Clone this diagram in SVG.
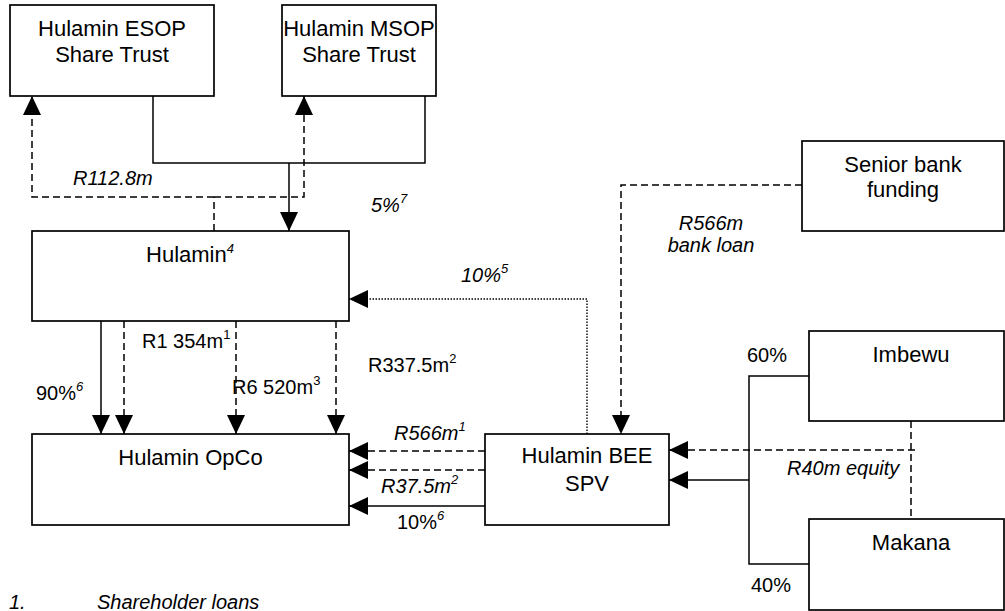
<svg xmlns="http://www.w3.org/2000/svg" width="1005" height="611" viewBox="0 0 1005 611">
<style>
.box{fill:#fff;stroke:#000;stroke-width:1.7}
.t{font-family:"Liberation Sans",Arial,sans-serif;font-size:22px;fill:#000}
.l{font-family:"Liberation Sans",Arial,sans-serif;font-size:20px;fill:#000}
.i{font-style:italic}
.sup{font-size:13px}
.solid{fill:none;stroke:#000;stroke-width:1.5}
.dash{fill:none;stroke:#000;stroke-width:1.5;stroke-dasharray:7,4}
.dot{fill:none;stroke:#000;stroke-width:1.4;stroke-dasharray:1.5,1.5}
</style>
<defs>
<marker id="ah" markerUnits="userSpaceOnUse" markerWidth="19" markerHeight="18" refX="19" refY="9" orient="auto">
<path d="M0,0 L19,9 L0,18 z" fill="#000"/>
</marker>
</defs>
<rect width="1005" height="611" fill="#fff"/>

<g id="connectors">
<path class="solid" d="M153,96 V163 H425 V96"/>
<path class="solid" d="M289,163 V231" marker-end="url(#ah)"/>
<path class="dash" d="M214,231 V197"/>
<path class="dash" d="M214,197 H32 V96" marker-end="url(#ah)"/>
<path class="dash" d="M214,197 H304 V96" marker-end="url(#ah)"/>
<path class="solid" d="M101,321 V434" marker-end="url(#ah)"/>
<path class="dash" d="M124,321 V434" marker-end="url(#ah)"/>
<path class="dash" d="M236,321 V434" marker-end="url(#ah)"/>
<path class="dash" d="M336,321 V434" marker-end="url(#ah)"/>
<path class="dot" d="M587,434 V299 H349" marker-end="url(#ah)"/>
<path class="dash" d="M802,185 H621 V434" marker-end="url(#ah)"/>
<path class="dash" d="M485,451 H349" marker-end="url(#ah)"/>
<path class="dash" d="M485,470 H349" marker-end="url(#ah)"/>
<path class="solid" d="M485,506 H349" marker-end="url(#ah)"/>
<path class="solid" d="M809,376 H749 V564 H809"/>
<path class="solid" d="M749,480 H669" marker-end="url(#ah)"/>
<path class="dash" d="M911,421 V519"/>
<path class="dash" d="M915,450 H669" marker-end="url(#ah)"/>
</g>

<g id="esop">
<rect class="box" x="10" y="5" width="204" height="91"/>
<text class="t" x="112" y="36" text-anchor="middle">Hulamin ESOP</text>
<text class="t" x="112" y="62" text-anchor="middle">Share Trust</text>
</g>
<g id="msop">
<rect class="box" x="282" y="5" width="154" height="91"/>
<text class="t" x="359" y="36" text-anchor="middle">Hulamin MSOP</text>
<text class="t" x="359" y="62" text-anchor="middle">Share Trust</text>
</g>
<g id="hulamin">
<rect class="box" x="32" y="231" width="317" height="90"/>
<text class="t" x="190" y="262" text-anchor="middle">Hulamin<tspan class="sup i" dy="-9">4</tspan></text>
</g>
<g id="opco">
<rect class="box" x="32" y="434" width="317" height="91"/>
<text class="t" x="190.5" y="465" text-anchor="middle">Hulamin OpCo</text>
</g>
<g id="bee-spv">
<rect class="box" x="485" y="434" width="184" height="91"/>
<text class="t" x="587" y="463" text-anchor="middle">Hulamin BEE</text>
<text class="t" x="587" y="491" text-anchor="middle">SPV</text>
</g>
<g id="senior-bank">
<rect class="box" x="802" y="141" width="202" height="90"/>
<text class="t" x="903" y="172" text-anchor="middle">Senior bank</text>
<text class="t" x="903" y="197" text-anchor="middle">funding</text>
</g>
<g id="imbewu">
<rect class="box" x="809" y="331" width="195" height="90"/>
<text class="t" x="911" y="362" text-anchor="middle">Imbewu</text>
</g>
<g id="makana">
<rect class="box" x="809" y="519" width="195" height="91"/>
<text class="t" x="911" y="550" text-anchor="middle">Makana</text>
</g>

<g id="labels">
<text class="l i" x="73" y="185">R112.8m</text>
<text class="l i" x="371" y="212">5%<tspan class="sup" dy="-9">7</tspan></text>
<text class="l i" x="461" y="282">10%<tspan class="sup" dy="-9">5</tspan></text>
<text class="l i" x="711" y="230" text-anchor="middle">R566m</text>
<text class="l i" x="711" y="252" text-anchor="middle">bank loan</text>
<text class="l" x="142" y="348">R1 354m<tspan class="sup" dy="-9">1</tspan></text>
<text class="l" x="232" y="394">R6 520m<tspan class="sup" dy="-9">3</tspan></text>
<text class="l" x="368" y="372">R337.5m<tspan class="sup" dy="-9">2</tspan></text>
<text class="l" x="36" y="400">90%<tspan class="sup i" dy="-9">6</tspan></text>
<text class="l i" x="394" y="440">R566m<tspan class="sup" dy="-9">1</tspan></text>
<text class="l i" x="381" y="493">R37.5m<tspan class="sup" dy="-9">2</tspan></text>
<text class="l" x="397" y="529">10%<tspan class="sup i" dy="-9">6</tspan></text>
<text class="l" x="747" y="362">60%</text>
<text class="l" x="751" y="592">40%</text>
<text class="l i" x="787" y="475">R40m equity</text>
<text class="l i" x="9" y="609">1.</text>
<text class="l i" x="97" y="609">Shareholder loans</text>
</g>
</svg>
